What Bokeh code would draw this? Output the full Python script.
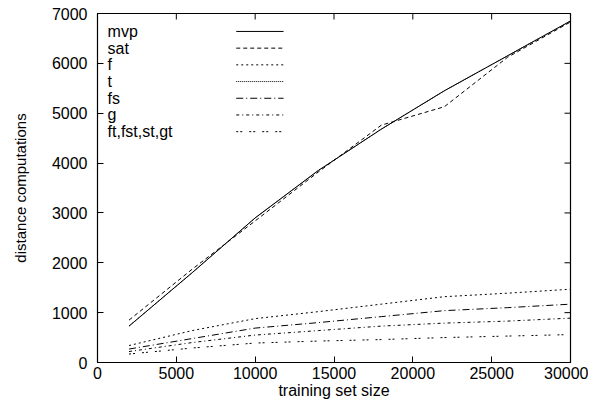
import math
from bokeh.plotting import figure
from bokeh.models import Range1d, FixedTicker
from bokeh.core.properties import value
from bokeh.embed import file_html
from bokeh.resources import INLINE

# ---- data ----
sizes = [2000, 6000, 10000, 14000, 18000, 22000, 26000, 30000]
mvp = [730, 1800, 2900, 3850, 4680, 5450, 6150, 6850]
sat = [850, 1870, 2840, 3820, 4760, 5130, 6120, 6830]
f_vals = [340, 640, 880, 1020, 1170, 1320, 1390, 1470]
t_vals = [730, 1800, 2900, 3850, 4680, 5450, 6150, 6850]
fs_vals = [270, 480, 690, 800, 920, 1040, 1100, 1170]
g_vals = [220, 400, 550, 640, 730, 790, 830, 890]
ft_vals = [170, 290, 390, 430, 460, 500, 530, 560]

series_names = ["mvp", "sat", "f", "t", "fs", "g", "ft,fst,st,gt"]
series_vals = [mvp, sat, f_vals, t_vals, fs_vals, g_vals, ft_vals]
x_ticks = [0, 5000, 10000, 15000, 20000, 25000, 30000]
y_ticks = [0, 1000, 2000, 3000, 4000, 5000, 6000, 7000]

# ---- styles ----
dashes = ["solid", "4 3", "2 3", "1 1", "7 3 1 3", "3 3 1 3", "2 2 2 7"]
FONT = "Liberation Sans"
FS = "16px"

p = figure(width=588, height=401, output_backend="svg", toolbar_location=None,
           x_range=Range1d(0, 30000), y_range=Range1d(0, 7000),
           min_border_left=97, min_border_right=18, min_border_top=13,
           min_border_bottom=33)
p.grid.visible = False
p.outline_line_color = "black"
p.outline_line_width = 1.2
p.background_fill_color = "white"
p.border_fill_color = "white"

def style_axis(ax):
    ax.axis_line_color = "black"
    ax.major_tick_in = 6
    ax.major_tick_out = 0
    ax.minor_tick_line_color = None
    ax.major_tick_line_color = "black"
    ax.major_label_text_font = FONT
    ax.major_label_text_font_size = FS
    ax.major_label_text_color = "black"
    ax.axis_label_text_font = FONT
    ax.axis_label_text_font_size = FS
    ax.axis_label_text_font_style = "normal"
    ax.axis_label_text_color = "black"

xa = p.xaxis[0]
ya = p.yaxis[0]
xa.ticker = FixedTicker(ticks=x_ticks)
ya.ticker = FixedTicker(ticks=y_ticks)
style_axis(xa)
style_axis(ya)
xa.axis_label = "training set size"
ya.axis_label = "distance computations"
ya.axis_label_text_font_size = "15px"
xa.major_label_standoff = 4
xa.axis_label_standoff = 0
ya.major_label_standoff = 10
ya.axis_label_standoff = 20

# mirrored ticks on top and right edges (inward, 6 px)
p.ray(x=x_ticks, y=[y_ticks[-1]] * len(x_ticks), length=6, length_units="screen",
      angle=-math.pi / 2, line_color="black", line_width=1)
p.ray(x=[x_ticks[-1]] * len(y_ticks), y=y_ticks, length=6, length_units="screen",
      angle=math.pi, line_color="black", line_width=1)

# draw t first so the solid mvp line covers it
order = [3, 0, 1, 2, 4, 5, 6]
for i in order:
    p.line(sizes, series_vals[i], line_color="black", line_width=1, line_dash=dashes[i])

# ---- legend (gnuplot style: label left, sample right) ----
leg_text_x = 640
leg_line_x0 = 8800
leg_line_x1 = 11800
leg_top_y = 6640
leg_step = 335
for i, (name, d) in enumerate(zip(series_names, dashes)):
    yy = leg_top_y - i * leg_step
    p.text(x=[leg_text_x], y=[yy], text=[name], text_font=value(FONT),
           text_font_size=FS, text_baseline="middle", text_align="left",
           text_color="black")
    p.segment(x0=[leg_line_x0], y0=[yy], x1=[leg_line_x1], y1=[yy],
              line_color="black", line_width=1, line_dash=d)

open("out.html", "w").write(file_html(p, INLINE))
